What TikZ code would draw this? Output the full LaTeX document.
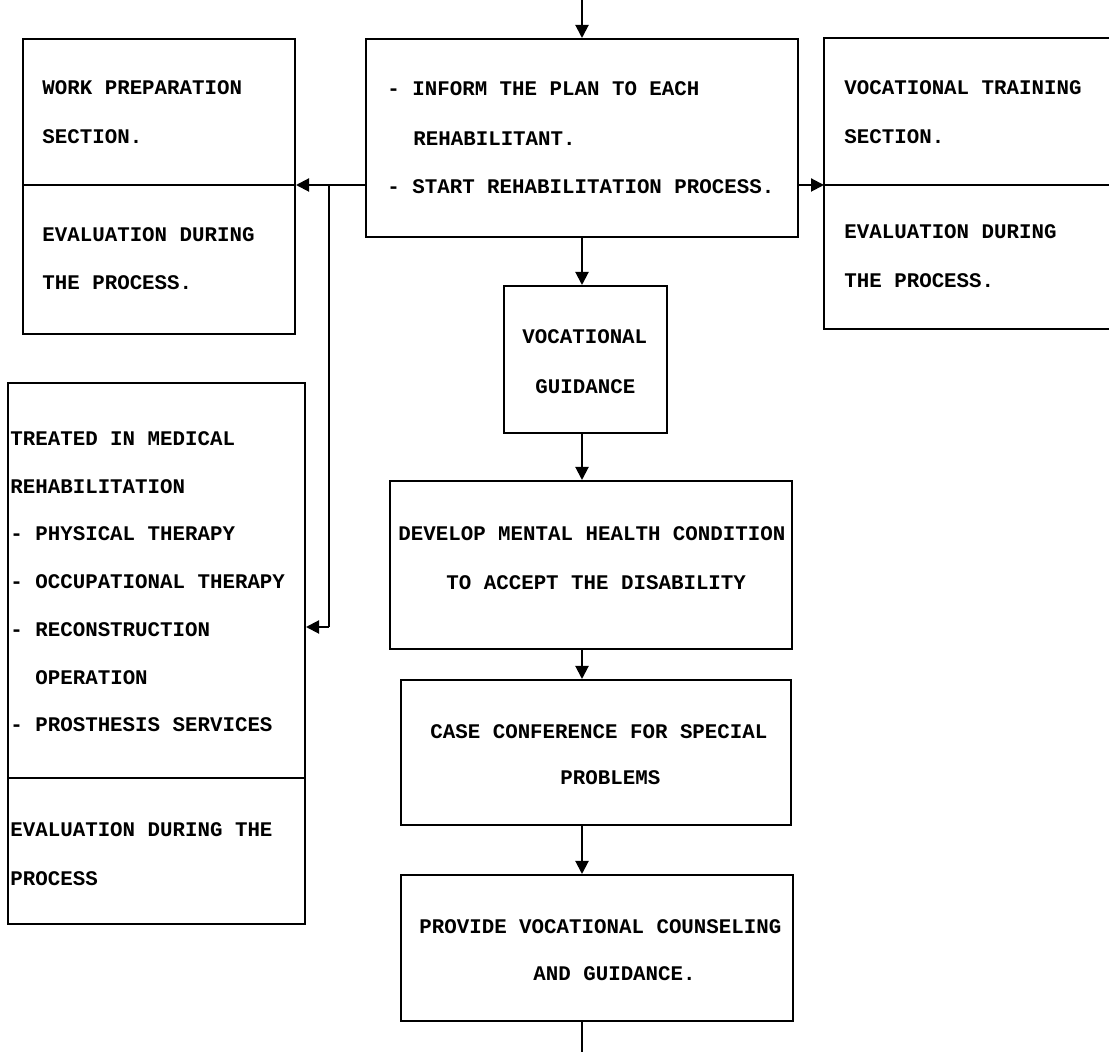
\documentclass[tikz,border=0pt]{standalone}
\usepackage{fontspec}
\setmonofont{Liberation Mono}
\usetikzlibrary{arrows.meta}
\begin{document}
\begin{tikzpicture}[x=0.5pt,y=-0.5pt,
  box/.style={draw,line width=1pt,inner sep=0pt,anchor=north west},
  openbox/.style={inner sep=0pt,anchor=north west},
  txt/.style={anchor=west,inner sep=0pt,font=\ttfamily\bfseries\fontsize{10.4}{12}\selectfont},
  conn/.style={line width=1pt},
  arr/.style={conn,-{Triangle[length=6.5pt,width=6.5pt]}},
  divider/.style={line width=0.8pt}]
\useasboundingbox (0,0) rectangle (1109,1052);

% boxes
\node[box,minimum width=216pt,minimum height=99pt] (main) at (365,38) {};
\node[box,minimum width=136pt,minimum height=147.5pt] (wps) at (22,38) {};
\node[openbox,minimum width=145pt,minimum height=145pt] (vts) at (824,38) {};
\node[box,minimum width=148.5pt,minimum height=270.5pt] (med) at (7,382) {};
\node[box,minimum width=81.5pt,minimum height=73.5pt] (vg) at (503,285) {};
\node[box,minimum width=201pt,minimum height=84pt] (dmh) at (389,480) {};
\node[box,minimum width=195pt,minimum height=72.5pt] (ccsp) at (400,679) {};
\node[box,minimum width=196pt,minimum height=73pt] (pvc) at (400,874) {};

% open right box
\draw[conn] (vts.north east) -- (vts.north west) -- (vts.south west) -- (vts.south east);

% dividers
\draw[divider] (wps.west |- 0,185) -- (wps.east |- 0,185);
\draw[divider] (vts.west |- 0,185) -- (vts.east |- 0,185);
\draw[divider] (med.west |- 0,778) -- (med.east |- 0,778);

% texts main
\node[txt] (m1) at (387,89) {- INFORM THE PLAN TO EACH};
\node[txt] (m2) at (413,139) {REHABILITANT.};
\node[txt] (m3) at (387,187) {- START REHABILITATION PROCESS.};
% wps
\node[txt] (w1) at (42,88) {WORK PREPARATION};
\node[txt] (w2) at (42,137) {SECTION.};
\node[txt] (w3) at (42,235) {EVALUATION DURING};
\node[txt] (w4) at (42,283) {THE PROCESS.};
% vts
\node[txt] (v1) at (844,88) {VOCATIONAL TRAINING};
\node[txt] (v2) at (844,137) {SECTION.};
\node[txt] (v3) at (844,232) {EVALUATION DURING};
\node[txt] (v4) at (844,281) {THE PROCESS.};
% med
\node[txt] (d1) at (10,439) {TREATED IN MEDICAL};
\node[txt] (d2) at (10,487) {REHABILITATION};
\node[txt] (d3) at (10,534) {- PHYSICAL THERAPY};
\node[txt] (d4) at (10,582) {- OCCUPATIONAL THERAPY};
\node[txt] (d5) at (10,630) {- RECONSTRUCTION};
\node[txt] (d6) at (35,678) {OPERATION};
\node[txt] (d7) at (10,725) {- PROSTHESIS SERVICES};
\node[txt] (d8) at (10,830) {EVALUATION DURING THE};
\node[txt] (d9) at (10,879) {PROCESS};
% center column
\node[txt] (g1) at (522,337) {VOCATIONAL};
\node[txt] (g2) at (535,387) {GUIDANCE};
\node[txt] (h1) at (398,534) {DEVELOP MENTAL HEALTH CONDITION};
\node[txt] (h2) at (446,583) {TO ACCEPT THE DISABILITY};
\node[txt] (c1) at (430,732) {CASE CONFERENCE FOR SPECIAL};
\node[txt] (c2) at (560,778) {PROBLEMS};
\node[txt] (p1) at (419,927) {PROVIDE VOCATIONAL COUNSELING};
\node[txt] (p2) at (533,974) {AND GUIDANCE.};

% connectors
\coordinate (top) at (582,0);
\coordinate (bottom) at (582,1052);
\coordinate (branch) at (329,185);
\draw[arr] (top) -- (top |- main.north);
\draw[arr] (main.west |- branch) -- (wps.east |- branch);
\draw[arr] (main.east |- branch) -- (vts.west |- branch);
\draw[conn] (branch) -- (branch |- 0,627);
\draw[arr] (branch |- 0,627) -- (med.east |- 0,627);
\draw[arr] (top |- main.south) -- (top |- vg.north);
\draw[arr] (top |- vg.south) -- (top |- dmh.north);
\draw[arr] (top |- dmh.south) -- (top |- ccsp.north);
\draw[arr] (top |- ccsp.south) -- (top |- pvc.north);
\draw[conn] (top |- pvc.south) -- (bottom);
\end{tikzpicture}
\end{document}
